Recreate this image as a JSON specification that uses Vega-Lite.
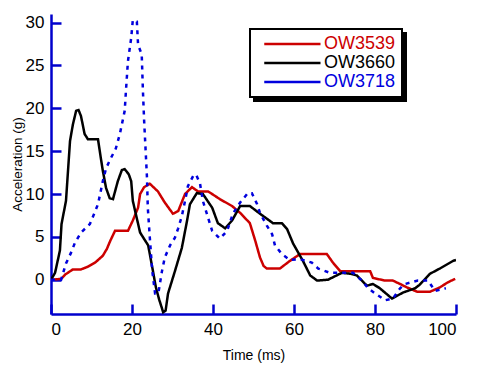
{
  "$schema": "https://vega.github.io/schema/vega-lite/v6.json",
  "autosize": "none",
  "width": 405,
  "height": 300,
  "padding": {"left": 51, "top": 14, "right": 23, "bottom": 51},
  "background": "white",
  "config": {
    "view": {"stroke": null},
    "font": "Liberation Sans"
  },
  "data": {
    "values": [
      {"s": "OW3539", "t": 0, "a": 0}, {"s": "OW3539", "t": 2.5, "a": 0.1}, {"s": "OW3539", "t": 3.5, "a": 0.6},
      {"s": "OW3539", "t": 5.4, "a": 1.2}, {"s": "OW3539", "t": 7.4, "a": 1.2}, {"s": "OW3539", "t": 9, "a": 1.5},
      {"s": "OW3539", "t": 10.9, "a": 2.0}, {"s": "OW3539", "t": 12.8, "a": 2.8}, {"s": "OW3539", "t": 13.8, "a": 3.6},
      {"s": "OW3539", "t": 14.6, "a": 4.5}, {"s": "OW3539", "t": 15.8, "a": 5.7}, {"s": "OW3539", "t": 19, "a": 5.7},
      {"s": "OW3539", "t": 20.2, "a": 6.9}, {"s": "OW3539", "t": 21.5, "a": 8.4}, {"s": "OW3539", "t": 22, "a": 10},
      {"s": "OW3539", "t": 23, "a": 10.8}, {"s": "OW3539", "t": 24.4, "a": 11.2}, {"s": "OW3539", "t": 26.4, "a": 10.3},
      {"s": "OW3539", "t": 28.1, "a": 9.0}, {"s": "OW3539", "t": 30.1, "a": 7.7}, {"s": "OW3539", "t": 31.4, "a": 8.0},
      {"s": "OW3539", "t": 33.1, "a": 10}, {"s": "OW3539", "t": 34.8, "a": 10.8}, {"s": "OW3539", "t": 36.3, "a": 10.3},
      {"s": "OW3539", "t": 38.8, "a": 10.3}, {"s": "OW3539", "t": 41.7, "a": 9.4}, {"s": "OW3539", "t": 44.7, "a": 8.6},
      {"s": "OW3539", "t": 46.7, "a": 7.8}, {"s": "OW3539", "t": 49.1, "a": 6.6}, {"s": "OW3539", "t": 50.4, "a": 4.6},
      {"s": "OW3539", "t": 51.6, "a": 2.6}, {"s": "OW3539", "t": 52.5, "a": 1.6}, {"s": "OW3539", "t": 53.3, "a": 1.3},
      {"s": "OW3539", "t": 56.5, "a": 1.3}, {"s": "OW3539", "t": 59, "a": 2.2}, {"s": "OW3539", "t": 61.5, "a": 3.0},
      {"s": "OW3539", "t": 68.1, "a": 3.0}, {"s": "OW3539", "t": 69.6, "a": 2.0}, {"s": "OW3539", "t": 71.4, "a": 1.0},
      {"s": "OW3539", "t": 78.8, "a": 1.0}, {"s": "OW3539", "t": 79.5, "a": 0.2}, {"s": "OW3539", "t": 82.5, "a": -0.1},
      {"s": "OW3539", "t": 84.4, "a": -0.1}, {"s": "OW3539", "t": 86.2, "a": -0.5}, {"s": "OW3539", "t": 87.9, "a": -0.9},
      {"s": "OW3539", "t": 90.4, "a": -1.4}, {"s": "OW3539", "t": 93.6, "a": -1.4}, {"s": "OW3539", "t": 96, "a": -0.9},
      {"s": "OW3539", "t": 98, "a": -0.3}, {"s": "OW3539", "t": 99.8, "a": 0.1},

      {"s": "OW3660", "t": 0, "a": 0}, {"s": "OW3660", "t": 1, "a": 0.8}, {"s": "OW3660", "t": 2.2, "a": 3.4},
      {"s": "OW3660", "t": 2.6, "a": 6.5}, {"s": "OW3660", "t": 3.7, "a": 9.2}, {"s": "OW3660", "t": 4.2, "a": 12.7},
      {"s": "OW3660", "t": 4.7, "a": 16.2}, {"s": "OW3660", "t": 5.4, "a": 18.1}, {"s": "OW3660", "t": 6.2, "a": 19.7},
      {"s": "OW3660", "t": 6.8, "a": 19.8}, {"s": "OW3660", "t": 7.4, "a": 19.1}, {"s": "OW3660", "t": 8.3, "a": 17},
      {"s": "OW3660", "t": 9.1, "a": 16.4}, {"s": "OW3660", "t": 11.6, "a": 16.4}, {"s": "OW3660", "t": 12.3, "a": 14.2},
      {"s": "OW3660", "t": 12.8, "a": 12.7}, {"s": "OW3660", "t": 13.6, "a": 10.7}, {"s": "OW3660", "t": 14.5, "a": 9.5},
      {"s": "OW3660", "t": 15.3, "a": 9.4}, {"s": "OW3660", "t": 16.5, "a": 11.5}, {"s": "OW3660", "t": 17.5, "a": 12.8},
      {"s": "OW3660", "t": 18.2, "a": 12.9}, {"s": "OW3660", "t": 19.2, "a": 12.3}, {"s": "OW3660", "t": 19.8, "a": 11.5},
      {"s": "OW3660", "t": 20.2, "a": 9.2}, {"s": "OW3660", "t": 22, "a": 5.5}, {"s": "OW3660", "t": 24, "a": 4.0},
      {"s": "OW3660", "t": 25.1, "a": 1.2}, {"s": "OW3660", "t": 25.9, "a": -0.9}, {"s": "OW3660", "t": 26.7, "a": -2.3},
      {"s": "OW3660", "t": 27.7, "a": -3.8}, {"s": "OW3660", "t": 28.3, "a": -3.6}, {"s": "OW3660", "t": 28.9, "a": -1.6},
      {"s": "OW3660", "t": 30.6, "a": 1.0}, {"s": "OW3660", "t": 32.3, "a": 3.7}, {"s": "OW3660", "t": 33.6, "a": 6.9},
      {"s": "OW3660", "t": 34.3, "a": 8.8}, {"s": "OW3660", "t": 36, "a": 10.1}, {"s": "OW3660", "t": 37.5, "a": 10.0},
      {"s": "OW3660", "t": 39.8, "a": 8.4}, {"s": "OW3660", "t": 41.2, "a": 6.6}, {"s": "OW3660", "t": 43, "a": 6.0},
      {"s": "OW3660", "t": 44.7, "a": 6.9}, {"s": "OW3660", "t": 46.7, "a": 8.6}, {"s": "OW3660", "t": 49.1, "a": 8.6},
      {"s": "OW3660", "t": 51.6, "a": 7.7}, {"s": "OW3660", "t": 54.8, "a": 6.6}, {"s": "OW3660", "t": 57, "a": 6.6},
      {"s": "OW3660", "t": 58.3, "a": 5.9}, {"s": "OW3660", "t": 59.8, "a": 4.2}, {"s": "OW3660", "t": 62.2, "a": 2.2},
      {"s": "OW3660", "t": 64, "a": 0.5}, {"s": "OW3660", "t": 65.7, "a": -0.1}, {"s": "OW3660", "t": 68.4, "a": 0.0},
      {"s": "OW3660", "t": 71.8, "a": 0.8}, {"s": "OW3660", "t": 73.8, "a": 0.7}, {"s": "OW3660", "t": 75.5, "a": 0.5},
      {"s": "OW3660", "t": 78, "a": -0.7}, {"s": "OW3660", "t": 79.5, "a": -0.5}, {"s": "OW3660", "t": 81.2, "a": -1.0},
      {"s": "OW3660", "t": 84.2, "a": -2.2}, {"s": "OW3660", "t": 86.9, "a": -1.5}, {"s": "OW3660", "t": 89.9, "a": -1.0},
      {"s": "OW3660", "t": 91, "a": -0.6}, {"s": "OW3660", "t": 93.6, "a": 0.7}, {"s": "OW3660", "t": 96, "a": 1.3},
      {"s": "OW3660", "t": 99.3, "a": 2.2}, {"s": "OW3660", "t": 100, "a": 2.3},

      {"s": "OW3718", "t": 0, "a": 0}, {"s": "OW3718", "t": 2.5, "a": 0}, {"s": "OW3718", "t": 3.7, "a": 1.9},
      {"s": "OW3718", "t": 4.9, "a": 3.1}, {"s": "OW3718", "t": 5.9, "a": 4.3}, {"s": "OW3718", "t": 7.4, "a": 5.5},
      {"s": "OW3718", "t": 9.6, "a": 6.5}, {"s": "OW3718", "t": 10.4, "a": 7.4}, {"s": "OW3718", "t": 11.6, "a": 8.8},
      {"s": "OW3718", "t": 12.8, "a": 11.5}, {"s": "OW3718", "t": 13.6, "a": 13.0}, {"s": "OW3718", "t": 14.8, "a": 14.2},
      {"s": "OW3718", "t": 16, "a": 15.3}, {"s": "OW3718", "t": 17, "a": 17}, {"s": "OW3718", "t": 18.2, "a": 19.7},
      {"s": "OW3718", "t": 18.5, "a": 22}, {"s": "OW3718", "t": 19, "a": 25.5}, {"s": "OW3718", "t": 19.8, "a": 28.2},
      {"s": "OW3718", "t": 20.2, "a": 30.3}, {"s": "OW3718", "t": 21.2, "a": 30.1}, {"s": "OW3718", "t": 21.5, "a": 27.4},
      {"s": "OW3718", "t": 22.4, "a": 26.3}, {"s": "OW3718", "t": 22.7, "a": 22}, {"s": "OW3718", "t": 23, "a": 18.5},
      {"s": "OW3718", "t": 23.5, "a": 13.8}, {"s": "OW3718", "t": 23.7, "a": 11.9}, {"s": "OW3718", "t": 23.9, "a": 8.4},
      {"s": "OW3718", "t": 24.4, "a": 4.9}, {"s": "OW3718", "t": 25, "a": 1.0}, {"s": "OW3718", "t": 25.7, "a": -1.6},
      {"s": "OW3718", "t": 26.5, "a": -1.6}, {"s": "OW3718", "t": 27.4, "a": 1.0}, {"s": "OW3718", "t": 28.1, "a": 2.6},
      {"s": "OW3718", "t": 29.4, "a": 4.0}, {"s": "OW3718", "t": 30.6, "a": 4.9}, {"s": "OW3718", "t": 31.4, "a": 6.0},
      {"s": "OW3718", "t": 32.3, "a": 7.4}, {"s": "OW3718", "t": 33.1, "a": 9.2}, {"s": "OW3718", "t": 33.8, "a": 10.9},
      {"s": "OW3718", "t": 35.1, "a": 12.1}, {"s": "OW3718", "t": 35.8, "a": 12.3}, {"s": "OW3718", "t": 36.8, "a": 11.2},
      {"s": "OW3718", "t": 37.5, "a": 9.2}, {"s": "OW3718", "t": 38.8, "a": 7.2}, {"s": "OW3718", "t": 39.8, "a": 5.7},
      {"s": "OW3718", "t": 41.7, "a": 4.8}, {"s": "OW3718", "t": 43.5, "a": 5.7}, {"s": "OW3718", "t": 44.9, "a": 7.7},
      {"s": "OW3718", "t": 46.7, "a": 9.0}, {"s": "OW3718", "t": 48.6, "a": 10.1}, {"s": "OW3718", "t": 49.6, "a": 10.1},
      {"s": "OW3718", "t": 50.9, "a": 8.8}, {"s": "OW3718", "t": 51.6, "a": 7.8}, {"s": "OW3718", "t": 53.3, "a": 6.3},
      {"s": "OW3718", "t": 54.6, "a": 5.3}, {"s": "OW3718", "t": 55.3, "a": 4.0}, {"s": "OW3718", "t": 57, "a": 3.0},
      {"s": "OW3718", "t": 59, "a": 2.3}, {"s": "OW3718", "t": 61.5, "a": 2.4}, {"s": "OW3718", "t": 64.4, "a": 2.0},
      {"s": "OW3718", "t": 66, "a": 1.3}, {"s": "OW3718", "t": 68.9, "a": 0.8}, {"s": "OW3718", "t": 74.6, "a": 0.8},
      {"s": "OW3718", "t": 76.8, "a": -0.1}, {"s": "OW3718", "t": 78.3, "a": -1.0}, {"s": "OW3718", "t": 80, "a": -1.6},
      {"s": "OW3718", "t": 82.5, "a": -2.4}, {"s": "OW3718", "t": 84.4, "a": -2.2}, {"s": "OW3718", "t": 86.2, "a": -1.0},
      {"s": "OW3718", "t": 87.4, "a": -0.5}, {"s": "OW3718", "t": 90.6, "a": -0.1}, {"s": "OW3718", "t": 93.1, "a": -0.1},
      {"s": "OW3718", "t": 94.8, "a": -1.3}, {"s": "OW3718", "t": 97.5, "a": -1.0}
    ]
  },
  "encoding": {
    "x": {
      "field": "t",
      "type": "quantitative",
      "scale": {"domain": [0, 100], "nice": false, "zero": false},
      "axis": {
        "title": "Time (ms)",
        "values": [0, 20, 40, 60, 80, 100],
        "grid": false,
        "domainColor": "#0000cc",
        "domainWidth": 2.5,
        "tickColor": "#0000cc",
        "tickWidth": 2.5,
        "tickSize": -10,
        "labelPadding": 17,
        "labelFontSize": 17,
        "labelColor": "black",
        "labelFont": "Liberation Sans",
        "titleFont": "Liberation Sans",
        "titleFontSize": 14,
        "titleFontWeight": "normal",
        "titleColor": "black",
        "titleY": 41,
        "titleBaseline": "middle"
      }
    },
    "y": {
      "field": "a",
      "type": "quantitative",
      "scale": {"domain": [-4, 31], "nice": false, "zero": false},
      "axis": {
        "title": "Acceleration (g)",
        "values": [0, 5, 10, 15, 20, 25, 30],
        "grid": false,
        "domainColor": "#0000cc",
        "domainWidth": 2.5,
        "tickColor": "#0000cc",
        "tickWidth": 2.5,
        "tickSize": -10,
        "labelPadding": 17,
        "labelFontSize": 17,
        "labelColor": "black",
        "labelFont": "Liberation Sans",
        "titleFont": "Liberation Sans",
        "titleFontSize": 13.5,
        "titleFontWeight": "normal",
        "titleColor": "black",
        "titleX": -34,
        "titleY": 150,
        "titleBaseline": "middle",
        "titleAlign": "center"
      }
    }
  },
  "layer": [
    {
      "mark": {"type": "line", "opacity": 0},
      "encoding": {
        "color": {
          "field": "s",
          "type": "nominal",
          "scale": {"domain": ["OW3539", "OW3660", "OW3718"], "range": ["#cc0000", "#000000", "#0000dd"]},
          "legend": {
            "title": null,
            "orient": "none",
            "legendX": 203,
            "legendY": 19,
            "padding": 6,
            "strokeColor": "black",
            "fillColor": "black",
            "symbolType": "M-0.1,0H7.4",
            "symbolSize": 225,
            "symbolStrokeWidth": 2.5,
            "labelFontSize": 18,
            "labelFont": "Liberation Sans",
            "labelOffset": 50,
            "rowPadding": 1,
            "encode": {
              "legend": {"update": {"strokeWidth": {"value": 2}}},
              "symbols": {"update": {"opacity": {"value": 0}}},
              "labels": {"update": {"opacity": {"value": 0}}}
            }
          }
        }
      }
    },
    {
      "mark": {"type": "line", "strokeWidth": 2.5, "clip": true},
      "encoding": {
        "color": {
          "field": "s",
          "type": "nominal",
          "scale": {"domain": ["OW3539", "OW3660", "OW3718"], "range": ["#cc0000", "#000000", "#0000dd"]},
          "legend": {
            "title": null,
            "orient": "none",
            "legendX": 199,
            "legendY": 15,
            "padding": 6,
            "strokeColor": "black",
            "fillColor": "white",
            "symbolType": "M-0.1,0H7.4",
            "symbolSize": 225,
            "symbolStrokeWidth": 2.5,
            "labelFontSize": 18,
            "labelFont": "Liberation Sans",
            "labelOffset": 50,
            "rowPadding": 1,
            "encode": {
              "legend": {"update": {"strokeWidth": {"value": 2}}},
              "symbols": {"update": {"fill": {"value": "transparent"}}},
              "labels": {"update": {"fill": {"scale": "color", "field": "value"}}}
            }
          }
        },
        "strokeDash": {
          "field": "s",
          "type": "nominal",
          "scale": {"domain": ["OW3539", "OW3660", "OW3718"], "range": [[1, 0], [1, 0], [4, 5]]},
          "legend": null
        }
      }
    }
  ],
  "resolve": {"legend": {"color": "independent"}}
}
